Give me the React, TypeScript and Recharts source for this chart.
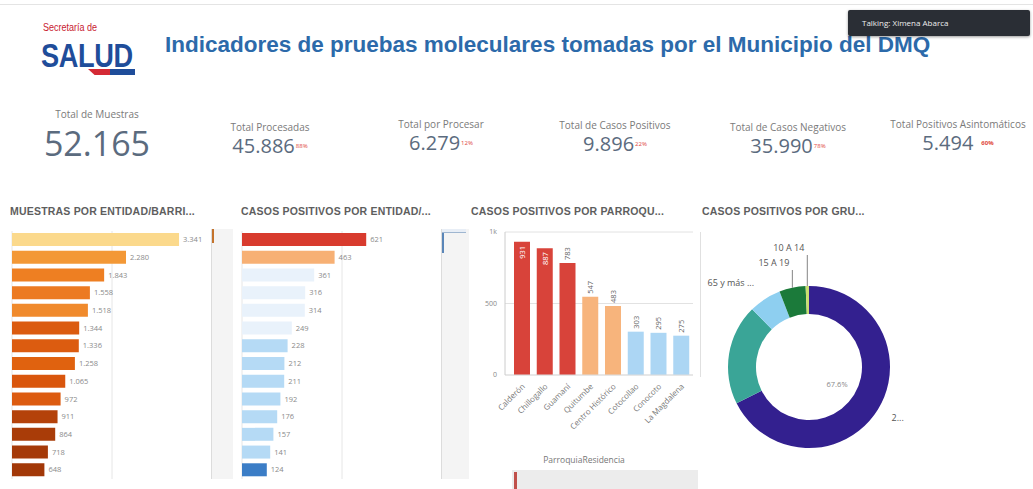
import React from 'react';
import { BarChart, Bar, XAxis, YAxis, CartesianGrid, Cell, LabelList, PieChart, Pie } from 'recharts';

// Muestras por entidad/barrio
const entidades = ['Entidad 1', 'Entidad 2', 'Entidad 3', 'Entidad 4', 'Entidad 5', 'Entidad 6', 'Entidad 7', 'Entidad 8', 'Entidad 9', 'Entidad 10', 'Entidad 11', 'Entidad 12', 'Entidad 13', 'Entidad 14'];
const muestras = [3341, 2280, 1843, 1558, 1518, 1344, 1336, 1258, 1065, 972, 911, 864, 718, 648];
const muestrasColors = ['#fbd98c', '#f39836', '#ee7f22', '#ec7a22', '#f08a2c', '#db5b10', '#dc5c10', '#e0620f', '#d9560d', '#dc5b10', '#b4420a', '#a93c08', '#a53a09', '#a23808'];

// Casos positivos por entidad
const entidadesPos = ['Entidad A', 'Entidad B', 'Entidad C', 'Entidad D', 'Entidad E', 'Entidad F', 'Entidad G', 'Entidad H', 'Entidad I', 'Entidad J', 'Entidad K', 'Entidad L', 'Entidad M', 'Entidad N'];
const positivos = [621, 463, 361, 316, 314, 249, 228, 212, 211, 192, 176, 157, 141, 124];
const positivosColors = ['#d83b2e', '#f7b074', '#e9f2fb', '#e9f2fb', '#e9f2fb', '#e9f2fb', '#b5daf5', '#b5daf5', '#b5daf5', '#b5daf5', '#b5daf5', '#b5daf5', '#b5daf5', '#3b7dc6'];

// Casos positivos por parroquia
const parroquias = ['Calderón', 'Chillogallo', 'Guamaní', 'Quitumbe', 'Centro Histórico', 'Cotocollao', 'Conocoto', 'La Magdalena'];
const parroquiaPos = [931, 887, 783, 547, 483, 303, 295, 275];
const parroquiaColors = ['#d8433a', '#d8433a', '#d8433a', '#f7b47c', '#f7b47c', '#acd6f4', '#acd6f4', '#acd6f4'];
const parroquiaTicks = [0, 500, 1000];

// Casos positivos por grupo de edad
const grupos = ['20 A 49', '50 A 64', '65 y más', '15 A 19', '10 A 14'];
const grupoPos = [6690, 1980, 640, 520, 66];
const grupoColors = ['#33208f', '#3aa597', '#8ecff0', '#1b7a3a', '#c9df70'];

const fmt = (n: number) => n.toString().replace(/\B(?=(\d{3})+(?!\d))/g, '.');

const muestrasData = entidades.map((e, i) => ({ name: e, value: muestras[i] }));
const positivosData = entidadesPos.map((e, i) => ({ name: e, value: positivos[i] }));
const parroquiaData = parroquias.map((p, i) => ({ name: p, value: parroquiaPos[i] }));
const grupoData = grupos.map((g, i) => ({ name: g, value: grupoPos[i] }));

const font = '"Open Sans", Arial, sans-serif';

function Kpi({ left, top, label, value, sup, big }: any) {
  return (
    <div style={{ position: 'absolute', left, top, width: 170, marginLeft: -85, textAlign: 'center', fontFamily: font }}>
      <div style={{ fontSize: 10, lineHeight: '13px', color: '#7a7a7a' }}>{label}</div>
      <div style={{ fontSize: big ? 34 : 20, color: '#5b6b7e', lineHeight: big ? '38px' : '24px', marginTop: big ? 3 : 0, fontWeight: 400 }}>
        {value}
        {sup && <sup style={{ fontSize: 6, color: '#e0483c', fontWeight: sup === '60%' ? 700 : 400, verticalAlign: 'top', marginLeft: sup === '60%' ? 8 : 1 }}>{sup}</sup>}
      </div>
    </div>
  );
}

const sectionTitle: React.CSSProperties = {
  position: 'absolute', top: 205, fontFamily: 'Arial, sans-serif', fontWeight: 700, fontSize: 10.5, color: '#5e5e5e', letterSpacing: 0.2,
};

function ParroquiaTick(props: any) {
  const { x, y, payload } = props;
  return (
    <text x={x + 3} y={y + 4} transform={`rotate(-45, ${x + 3}, ${y + 4})`} textAnchor="end" fontSize={8} fill="#777" fontFamily={font}>
      {payload.value}
    </text>
  );
}

function ParroquiaLabel(props: any) {
  const { x, y, width, value } = props;
  const cx = x + width / 2;
  const inside = value > 850;
  const ty = inside ? y + 4 : y - 3;
  return (
    <text x={cx} y={ty} transform={`rotate(-90, ${cx}, ${ty})`} textAnchor={inside ? 'end' : 'start'} dominantBaseline="central" fontSize={7.5} fill={inside ? '#fff' : '#666'} fontFamily={font}>
      {value}
    </text>
  );
}

const RAD = Math.PI / 180;
function renderPieLabel(props: any) {
  const { cx, cy, midAngle, innerRadius, outerRadius, index } = props;
  const pt = (r: number) => ({ x: cx + r * Math.cos(-midAngle * RAD), y: cy + r * Math.sin(-midAngle * RAD) });
  if (index === 0) {
    const o = pt(outerRadius + 16);
    const i = pt(innerRadius - 20);
    return (
      <g>
        <text x={o.x} y={o.y} fontSize={9} fill="#555" dominantBaseline="central" fontFamily={font}>2...</text>
        <text x={i.x} y={i.y} fontSize={7.5} fill="#888" textAnchor="middle" dominantBaseline="central" fontFamily={font}>67.6%</text>
      </g>
    );
  }
  if (index === 2) {
    const o = pt(outerRadius + 20);
    return <text x={o.x} y={o.y} fontSize={9} fill="#555" textAnchor="end" dominantBaseline="central" fontFamily={font}>65 y más ...</text>;
  }
  if (index === 3 || index === 4) {
    const p = pt(outerRadius);
    const top = index === 3 ? cy - outerRadius - 16 : cy - outerRadius - 31;
    return (
      <g>
        <line x1={p.x} y1={p.y} x2={p.x} y2={top} stroke="#666" strokeWidth={0.8} />
        <text x={p.x - 3} y={top - 4} fontSize={9} fill="#555" textAnchor="end" fontFamily={font}>{grupos[index]}</text>
      </g>
    );
  }
  return null;
}

export default function App() {
  return (
    <div style={{ position: 'absolute', left: 0, top: 0, width: 1033, height: 489, background: '#fff', overflow: 'hidden', fontFamily: font }}>
      <div style={{ position: 'absolute', left: 0, top: 4, width: 1033, height: 1, background: '#e4e4e4' }} />

      {/* logo */}
      <div style={{ position: 'absolute', left: 43, top: 22, fontFamily: 'Arial, sans-serif', fontSize: 10, lineHeight: '11px', color: '#c8202f', transform: 'scaleX(0.9)', transformOrigin: 'left' }}>Secretaría de</div>
      <div style={{ position: 'absolute', left: 41, top: 41, fontFamily: 'Arial, sans-serif', fontSize: 34, lineHeight: '28px', height: 28, fontWeight: 700, color: '#1f4d9a', transform: 'scaleX(0.8)', transformOrigin: 'left', letterSpacing: -0.5 }}>SALUD</div>
      <div style={{ position: 'absolute', left: 88, top: 69, width: 22, height: 6, background: '#d42a35', clipPath: 'polygon(0 0,100% 0,100% 100%,30% 100%)' }} />
      <div style={{ position: 'absolute', left: 110, top: 69, width: 25, height: 6, background: '#1f4d9a' }} />

      {/* title */}
      <div style={{ position: 'absolute', left: 165, top: 32, fontFamily: 'Arial, sans-serif', fontSize: 22.5, fontWeight: 700, color: '#2c6aaa', whiteSpace: 'nowrap' }}>
        Indicadores de pruebas moleculares tomadas por el Municipio del DMQ
      </div>

      {/* talking box */}
      <div style={{ position: 'absolute', left: 848, top: 10, width: 182, height: 26, background: '#2a2e35', borderRadius: 2, boxShadow: '0 1px 3px rgba(0,0,0,0.4)', color: '#eee', fontSize: 8, lineHeight: '26px', paddingLeft: 14, boxSizing: 'border-box' }}>
        Talking: Ximena Abarca
      </div>

      {/* KPIs */}
      <Kpi left={97} top={108} label="Total de Muestras" value="52.165" big />
      <Kpi left={270} top={121} label="Total Procesadas" value="45.886" sup="88%" />
      <Kpi left={441} top={118} label="Total por Procesar" value="6.279" sup="12%" />
      <Kpi left={615} top={119} label="Total de Casos Positivos" value="9.896" sup="22%" />
      <Kpi left={788} top={121} label="Total de Casos Negativos" value="35.990" sup="78%" />
      <Kpi left={958} top={118} label="Total Positivos Asintomáticos" value="5.494" sup="60%" />

      {/* section titles */}
      <div style={{ ...sectionTitle, left: 10 }}>MUESTRAS POR ENTIDAD/BARRI...</div>
      <div style={{ ...sectionTitle, left: 241 }}>CASOS POSITIVOS POR ENTIDAD/...</div>
      <div style={{ ...sectionTitle, left: 471 }}>CASOS POSITIVOS POR PARROQU...</div>
      <div style={{ ...sectionTitle, left: 702 }}>CASOS POSITIVOS POR GRU...</div>

      {/* chart 1 */}
      <div style={{ position: 'absolute', left: 0, top: 229 }}>
        <BarChart width={235} height={252} data={muestrasData} layout="vertical" margin={{ top: 2, right: 23, bottom: 2, left: 12 }}>
          <CartesianGrid horizontal={false} stroke="#e6e6e6" />
          <XAxis type="number" domain={[0, 4000]} ticks={[0, 2000, 4000]} hide />
          <YAxis type="category" dataKey="name" hide />
          <Bar dataKey="value" barSize={13} isAnimationActive={false}>
            {muestrasData.map((d, i) => <Cell key={d.name} fill={muestrasColors[i]} />)}
            <LabelList dataKey="value" position="right" offset={4} fontSize={7.5} fill="#8a8a8a" formatter={(v: any) => fmt(Number(v))} />
          </Bar>
        </BarChart>
      </div>
      <div style={{ position: 'absolute', left: 211, top: 229, width: 21, height: 250, background: '#f4f4f4', borderLeft: '1px solid #dcdcdc' }}>
        <div style={{ width: 2, height: 14, background: '#c4732c' }} />
      </div>

      {/* chart 2 */}
      <div style={{ position: 'absolute', left: 230, top: 229 }}>
        <BarChart width={235} height={252} data={positivosData} layout="vertical" margin={{ top: 2, right: 23, bottom: 2, left: 12 }}>
          <CartesianGrid horizontal={false} stroke="#e6e6e6" />
          <XAxis type="number" domain={[0, 1000]} ticks={[0, 500, 1000]} hide />
          <YAxis type="category" dataKey="name" hide />
          <Bar dataKey="value" barSize={13} isAnimationActive={false}>
            {positivosData.map((d, i) => <Cell key={d.name} fill={positivosColors[i]} />)}
            <LabelList dataKey="value" position="right" offset={4} fontSize={7.5} fill="#8a8a8a" />
          </Bar>
        </BarChart>
      </div>
      <div style={{ position: 'absolute', left: 441, top: 229, width: 27, height: 250, background: '#f4f4f4', borderLeft: '1px solid #dcdcdc' }}>
        <div style={{ width: 24, height: 3, background: '#e8eef6', borderBottom: '1px solid #9fb6d0' }} />
        <div style={{ width: 2, height: 20, background: '#5a86b8' }} />
      </div>

      {/* chart 3 */}
      <div style={{ position: 'absolute', left: 470, top: 225 }}>
        <BarChart width={240} height={210} data={parroquiaData} margin={{ top: 7, right: 17, bottom: 0, left: 5 }} barCategoryGap={6}>
          <CartesianGrid vertical={false} stroke="#e2e2e2" />
          <XAxis dataKey="name" interval={0} tick={<ParroquiaTick />} tickLine={false} axisLine={{ stroke: '#ddd' }} height={60} padding={{ left: 6, right: 0 }} />
          <YAxis domain={[0, 1000]} ticks={parroquiaTicks} width={30} tickLine={false} axisLine={{ stroke: '#ccc' }}
            tick={{ fontSize: 7, fill: '#888' }} tickFormatter={(v: number) => (v === 1000 ? '1k' : String(v))} />
          <Bar dataKey="value" barSize={16} isAnimationActive={false}>
            {parroquiaData.map((d, i) => <Cell key={d.name} fill={parroquiaColors[i]} />)}
            <LabelList dataKey="value" content={<ParroquiaLabel />} />
          </Bar>
        </BarChart>
      </div>
      <div style={{ position: 'absolute', left: 700, top: 232, width: 1, height: 145, background: '#e0e0e0' }} />
      <div style={{ position: 'absolute', left: 470, top: 454, width: 228, textAlign: 'center', fontSize: 8.5, color: '#777' }}>ParroquiaResidencia</div>
      <div style={{ position: 'absolute', left: 512, top: 470, width: 186, height: 19, background: '#ececec' }}>
        <div style={{ position: 'absolute', left: 2, top: 2, width: 3, height: 17, background: '#c0504a' }} />
      </div>

      {/* chart 4 */}
      <div style={{ position: 'absolute', left: 700, top: 225 }}>
        <PieChart width={333} height={264}>
          <Pie data={grupoData} dataKey="value" nameKey="name" cx={104} cy={137} innerRadius={53} outerRadius={81}
            startAngle={90} endAngle={-270} stroke="none" label={renderPieLabel} labelLine={false} isAnimationActive={false}>
            {grupoData.map((d, i) => <Cell key={d.name} fill={grupoColors[i]} />)}
          </Pie>
        </PieChart>
      </div>
    </div>
  );
}
